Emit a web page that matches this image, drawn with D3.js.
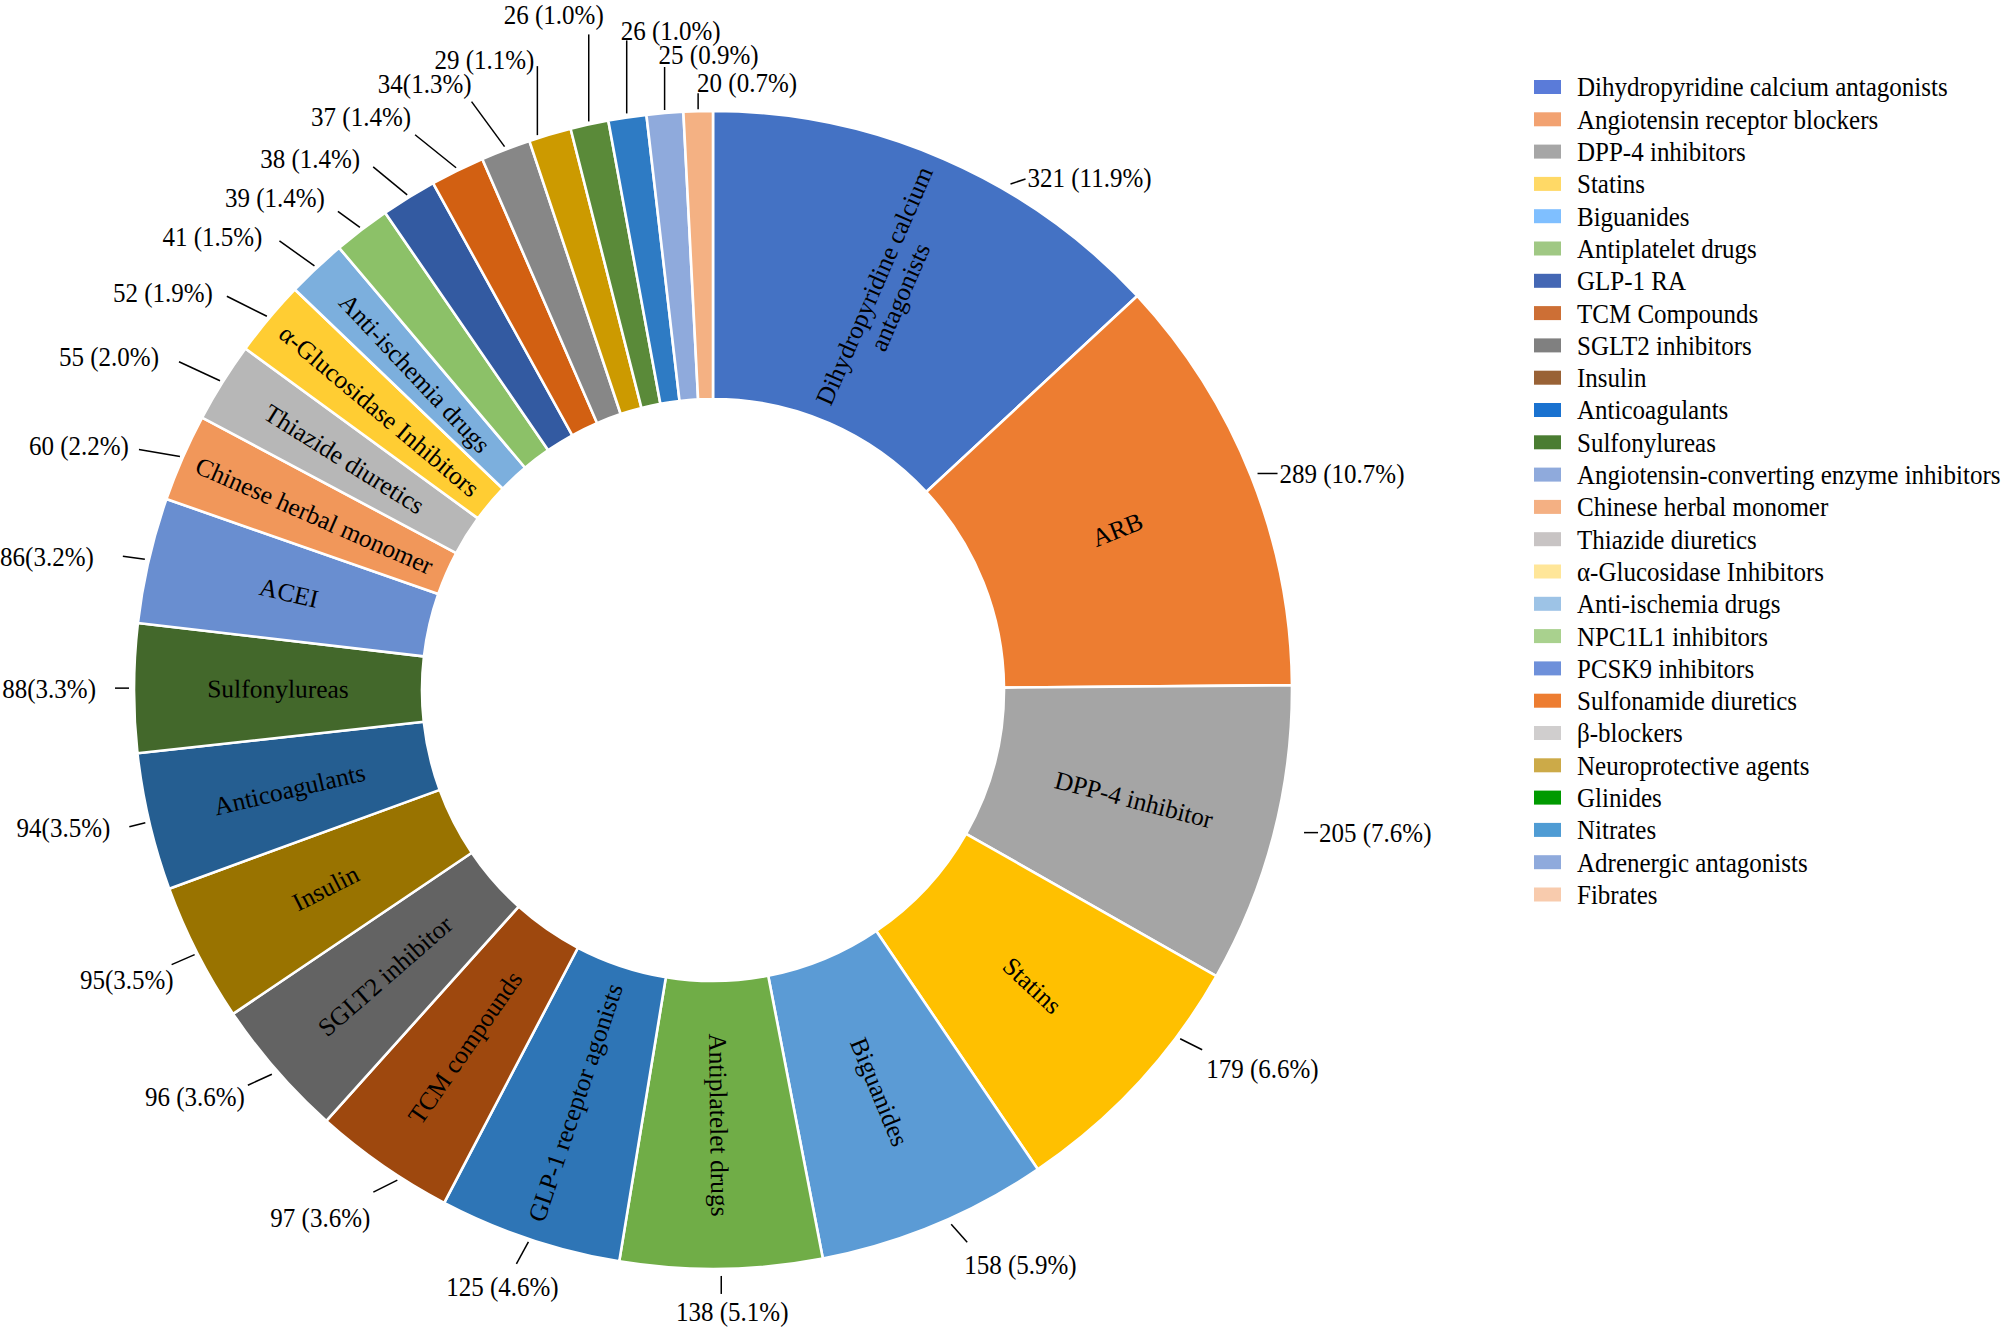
<!DOCTYPE html>
<html><head><meta charset="utf-8">
<script src="https://cdn.jsdelivr.net/npm/d3@7"></script>
<style>
body{margin:0;background:#fff;}
text{font-family:"Liberation Serif","Times New Roman",serif;fill:#000;}
</style>
</head><body>
<svg id="chart" width="2008" height="1330"></svg>
<script>
// ---------------- DATA ----------------
const categories = [
  "Dihydropyridine calcium antagonists","Angiotensin receptor blockers","DPP-4 inhibitors","Statins",
  "Biguanides","Antiplatelet drugs","GLP-1 RA","TCM Compounds","SGLT2 inhibitors","Insulin",
  "Anticoagulants","Sulfonylureas","Angiotensin-converting enzyme inhibitors","Chinese herbal monomer",
  "Thiazide diuretics","α-Glucosidase Inhibitors","Anti-ischemia drugs","NPC1L1 inhibitors",
  "PCSK9 inhibitors","Sulfonamide diuretics","β-blockers","Neuroprotective agents","Glinides",
  "Nitrates","Adrenergic antagonists","Fibrates"
];
const values = [321,289,205,179,158,138,125,97,96,95,94,88,86,60,55,52,41,39,38,37,34,29,26,26,25,20];
const valueLabels = [
  "321 (11.9%)","289 (10.7%)","205 (7.6%)","179 (6.6%)","158 (5.9%)","138 (5.1%)","125 (4.6%)",
  "97 (3.6%)","96 (3.6%)","95(3.5%)","94(3.5%)","88(3.3%)","86(3.2%)","60 (2.2%)","55 (2.0%)",
  "52 (1.9%)","41 (1.5%)","39 (1.4%)","38 (1.4%)","37 (1.4%)","34(1.3%)","29 (1.1%)","26 (1.0%)",
  "26 (1.0%)","25 (0.9%)","20 (0.7%)"
];
const sliceNames = [
  ["Dihydropyridine calcium","antagonists"],["ARB"],["DPP-4 inhibitor"],["Statins"],["Biguanides"],
  ["Antiplatelet drugs"],["GLP-1 receptor agonists"],["TCM compounds"],["SGLT2 inhibitor"],["Insulin"],
  ["Anticoagulants"],["Sulfonylureas"],["ACEI"],["Chinese herbal monomer"],["Thiazide diuretics"],
  ["α-Glucosidase Inhibitors"],["Anti-ischemia drugs"],[],[],[],[],[],[],[],[],[]
];
const sliceColors = [
  "#4472C4","#ED7D31","#A5A5A5","#FFC000","#5B9BD5","#70AD47","#2E75B6","#9E480E","#636363","#997300",
  "#255E91","#43682B","#698ED0","#F1975A","#B7B7B7","#FFCD33","#7CAFDD","#8CC168","#335AA1","#D26012",
  "#878787","#CC9A00","#5A8A39","#2E7BC4","#8FAADC","#F4B183"
];
const legendColors = [
  "#5A7BD9","#F2A271","#A6A6A6","#FFD966","#7FBFFF","#A0C884","#4467B4","#CD6F35","#808080","#996236",
  "#1A72D0","#4A7D32","#8FAADC","#F4B083","#C8C4C4","#FFE699","#9DC3E6","#A9D18E","#6E90DA","#ED7D31",
  "#D0CECE","#CCAA48","#009A00","#4F9CD4","#8FAADC","#F8CBAD"
];

// ---------------- LAYOUT (label placement, not data) ----------------
// [angleShiftDeg, startGap, lineDx, lineDy, textDx, textDy, anchor]
const labelLayout = [
  [6.9,8,15,-5,2,-1,"start"],
  [0,7,20,0,2,0,"start"],
  [-1,29,14,0,1,0,"start"],
  [-6,4,22,11,4,19,"start"],
  [-1.5,6,16,18,-3,22,"start"],
  [0,7,0,18,11,18,"middle"],
  [0,3,-12,22,-14,23,"middle"],
  [-2,4,-24,12,-3,25,"end"],
  [0,6,-24,11,-3,11,"end"],
  [0,3,-23,10,2,15,"end"],
  [0,4,-16,4,-19,1,"end"],
  [0,5,-14,0,-19,0,"end"],
  [0,4,-22,-3,-29,0,"end"],
  [0,3,-41,-7,-10,-4,"end"],
  [0,3,-41,-19,-20,-5,"end"],
  [0,3,-40,-20,-14,-4,"end"],
  [0,3,-35,-25,-17,-4,"end"],
  [0,3,-22,-16,-13,-14,"end"],
  [0,3,-34,-28,-13,-8,"end"],
  [0,3,-41,-33,-4,-18,"end"],
  [0,3,-33,-45,0,-18,"end"],
  [-1.2,3,0,-69,-3,-7,"end"],
  [0,3,0,-87,15,-20,"end"],
  [0,4,0,-73,-6,-10,"start"],
  [0,3,0,-43,-6,-12,"start"],
  [0,2,0,-16,-1,-11,"start"]
];
const FS = 27, SX = 0.926;   // text size and horizontal condensing of the source figure

const W = 2008, H = 1330;
const cx = 713, cy = 690, R = 579, r0 = 291;
const svg = d3.select("#chart");
svg.append("rect").attr("width",W).attr("height",H).attr("fill","#fff");
const g = svg.append("g").attr("transform",`translate(${cx},${cy})`);

const pie = d3.pie().sort(null).value(d => d).startAngle(0).endAngle(2*Math.PI);
const arcs = pie(values);
const arc = d3.arc().innerRadius(r0).outerRadius(R);

g.selectAll("path.slice").data(arcs).join("path")
  .attr("class","slice")
  .attr("d", arc)
  .attr("fill", (d,i) => sliceColors[i])
  .attr("stroke","#fff").attr("stroke-width",2.6).attr("stroke-linejoin","round");

// inner labels
const toDeg = a => a*180/Math.PI;
arcs.forEach((a,i) => {
  const lines = sliceNames[i];
  if (!lines.length) return;
  const mid = (a.startAngle + a.endAngle)/2;
  const [x,y] = arc.centroid(a);
  const deg = toDeg(mid);
  const rot = deg <= 180 ? deg - 90 : deg - 270;
  const t = g.append("text")
    .attr("transform",`translate(${x},${y}) rotate(${rot})`)
    .attr("text-anchor","middle")
    .attr("font-size",25.5);
  const lh = 1.1;
  const n = lines.length;
  lines.forEach((s,k) => {
    t.append("tspan").attr("x",0)
      .attr("dy", k===0 ? `${(0.35 - (n-1)*lh/2)}em` : `${lh}em`)
      .text(s);
  });
});

// outer value labels with leader lines
arcs.forEach((a,i) => {
  const L = labelLayout[i];
  const mid = (a.startAngle + a.endAngle)/2 + L[0]*Math.PI/180;
  const rs = R + L[1];
  const sx = rs*Math.sin(mid), sy = -rs*Math.cos(mid);
  const ex = sx + L[2], ey = sy + L[3];
  g.append("line").attr("x1",sx).attr("y1",sy).attr("x2",ex).attr("y2",ey)
    .attr("stroke","#000").attr("stroke-width",1.5);
  g.append("g").attr("transform",`translate(${ex + L[4]},${ey + L[5]}) scale(${SX},1)`)
    .append("text").attr("dy","0.35em")
    .attr("text-anchor",L[6]).attr("font-size",FS).text(valueLabels[i]);
});

// legend
const legendY = d3.scalePoint().domain(categories).range([87, 894.5]);
const lg = svg.append("g");
categories.forEach((c,i) => {
  const y = legendY(c);
  lg.append("rect").attr("x",1534).attr("y",y-7).attr("width",27).attr("height",14)
    .attr("fill",legendColors[i]);
  lg.append("g").attr("transform",`translate(1577,${y}) scale(${SX},1)`)
    .append("text").attr("dy","0.35em").attr("font-size",FS).text(c);
});
</script>
</body></html>
